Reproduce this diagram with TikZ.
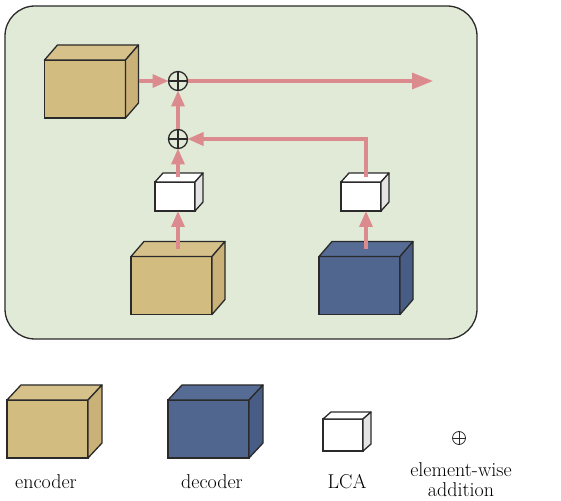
\documentclass[tikz,border=0pt]{standalone}
\usetikzlibrary{arrows.meta,calc}

\definecolor{panelgreen}{HTML}{E0EAD6}
\definecolor{edge}{HTML}{2A2A2A}
\definecolor{enctan}{HTML}{D2BC80}
\definecolor{enctop}{HTML}{D6C18A}
\definecolor{encside}{HTML}{C9B177}
\definecolor{decblue}{HTML}{50668F}
\definecolor{dectop}{HTML}{566C95}
\definecolor{decside}{HTML}{485D86}
\definecolor{lcaside}{HTML}{E4E4E4}
\definecolor{arrowpink}{HTML}{DB8A8E}

% top and right faces behind a front-face node: node, dx, dy, top fill, side fill
\newcommand{\cubefaces}[5]{%
  \filldraw[draw=edge, line width=1.3pt, line join=round, fill=#4]
    (#1.north west) -- ([shift={(#2pt,#3pt)}]#1.north west)
    -- ([shift={(#2pt,#3pt)}]#1.north east) -- (#1.north east) -- cycle;
  \filldraw[draw=edge, line width=1.3pt, line join=round, fill=#5]
    (#1.north east) -- ([shift={(#2pt,#3pt)}]#1.north east)
    -- ([shift={(#2pt,#3pt)}]#1.south east) -- (#1.south east) -- cycle;
}

\begin{document}
\begin{tikzpicture}[x=1pt, y=1pt,
  every node/.style={font=\fontsize{20}{20}\selectfont},
  front/.style={draw=edge, line width=1.3pt, inner sep=0pt, outer sep=0pt},
  encbox/.style={front, fill=enctan, minimum width=81pt, minimum height=58pt},
  decbox/.style={front, fill=decblue, minimum width=81pt, minimum height=58pt},
  lcabox/.style={front, fill=white, minimum width=40pt, minimum height=29pt},
  sum/.style={circle, draw=edge, line width=1.3pt, minimum size=19pt, inner sep=0pt, outer sep=0pt,
    path picture={\draw[edge] (path picture bounding box.north) -- (path picture bounding box.south)
      (path picture bounding box.west) -- (path picture bounding box.east);}},
  flow/.style={draw=arrowpink, line width=3.3pt, -{Triangle[length=16pt,width=13pt]}},
  keytext/.style={inner sep=0pt, text=black}
]
\useasboundingbox (0,0) rectangle (561,500);
\draw[draw=edge, fill=panelgreen, line width=1.3pt, rounded corners=30pt] (5,161) rectangle (477,494);

\node[encbox] (encTop) at (85,411) {};
\cubefaces{encTop}{13}{15}{enctop}{encside}
\node[sum] (sumTop) at (178,419) {};
\node[sum] (sumMid) at (178,361) {};
\node[lcabox] (lcaEnc) at (175,303.5) {};
\cubefaces{lcaEnc}{8}{9}{white}{lcaside}
\node[lcabox] (lcaDec) at (361,303.5) {};
\cubefaces{lcaDec}{8}{9}{white}{lcaside}
\node[encbox] (encLow) at (171.5,214.5) {};
\cubefaces{encLow}{13}{15}{enctop}{encside}
\node[decbox] (decLow) at (359.5,214.5) {};
\cubefaces{decLow}{13}{15}{dectop}{decside}
\coordinate (out) at (433,419);

\draw[flow] ([shift={(13pt,8pt)}]encTop.east) -- (sumTop.west);
\draw[flow, -{Triangle[length=21pt,width=16pt]}] (sumTop.east) -- (out);
\draw[flow] ([shift={(6.5pt,7.5pt)}]encLow.north) -- ([xshift=3pt]lcaEnc.south);
\draw[flow] ([shift={(3pt,4.5pt)}]lcaEnc.north) -- (sumMid.south);
\draw[flow] (sumMid.north) -- (sumTop.south);
\draw[flow] ([shift={(5pt,4.5pt)}]lcaDec.north) |- (sumMid.east);
\draw[flow] ([shift={(6.5pt,7.5pt)}]decLow.north) -- ([xshift=5pt]lcaDec.south);

\node[encbox] (encKey) at (47.5,71) {};
\cubefaces{encKey}{14}{15}{enctop}{encside}
\node[decbox] (decKey) at (208.5,71) {};
\cubefaces{decKey}{14}{15}{dectop}{decside}
\node[lcabox, minimum height=32pt] (lcaKey) at (343,65) {};
\cubefaces{lcaKey}{8}{7}{white}{lcaside}
\node[sum, minimum size=13pt, line width=0.8pt] (sumKey) at (459,62) {};

\node[keytext, anchor=base] (encText) at (46,12) {encoder};
\node[keytext, anchor=base] (decText) at (212,12) {decoder};
\node[keytext, anchor=base] (lcaText) at (347,12) {LCA};
\node[keytext, align=center] (sumText) at (461,20) {element-wise\\addition};
\end{tikzpicture}
\end{document}
